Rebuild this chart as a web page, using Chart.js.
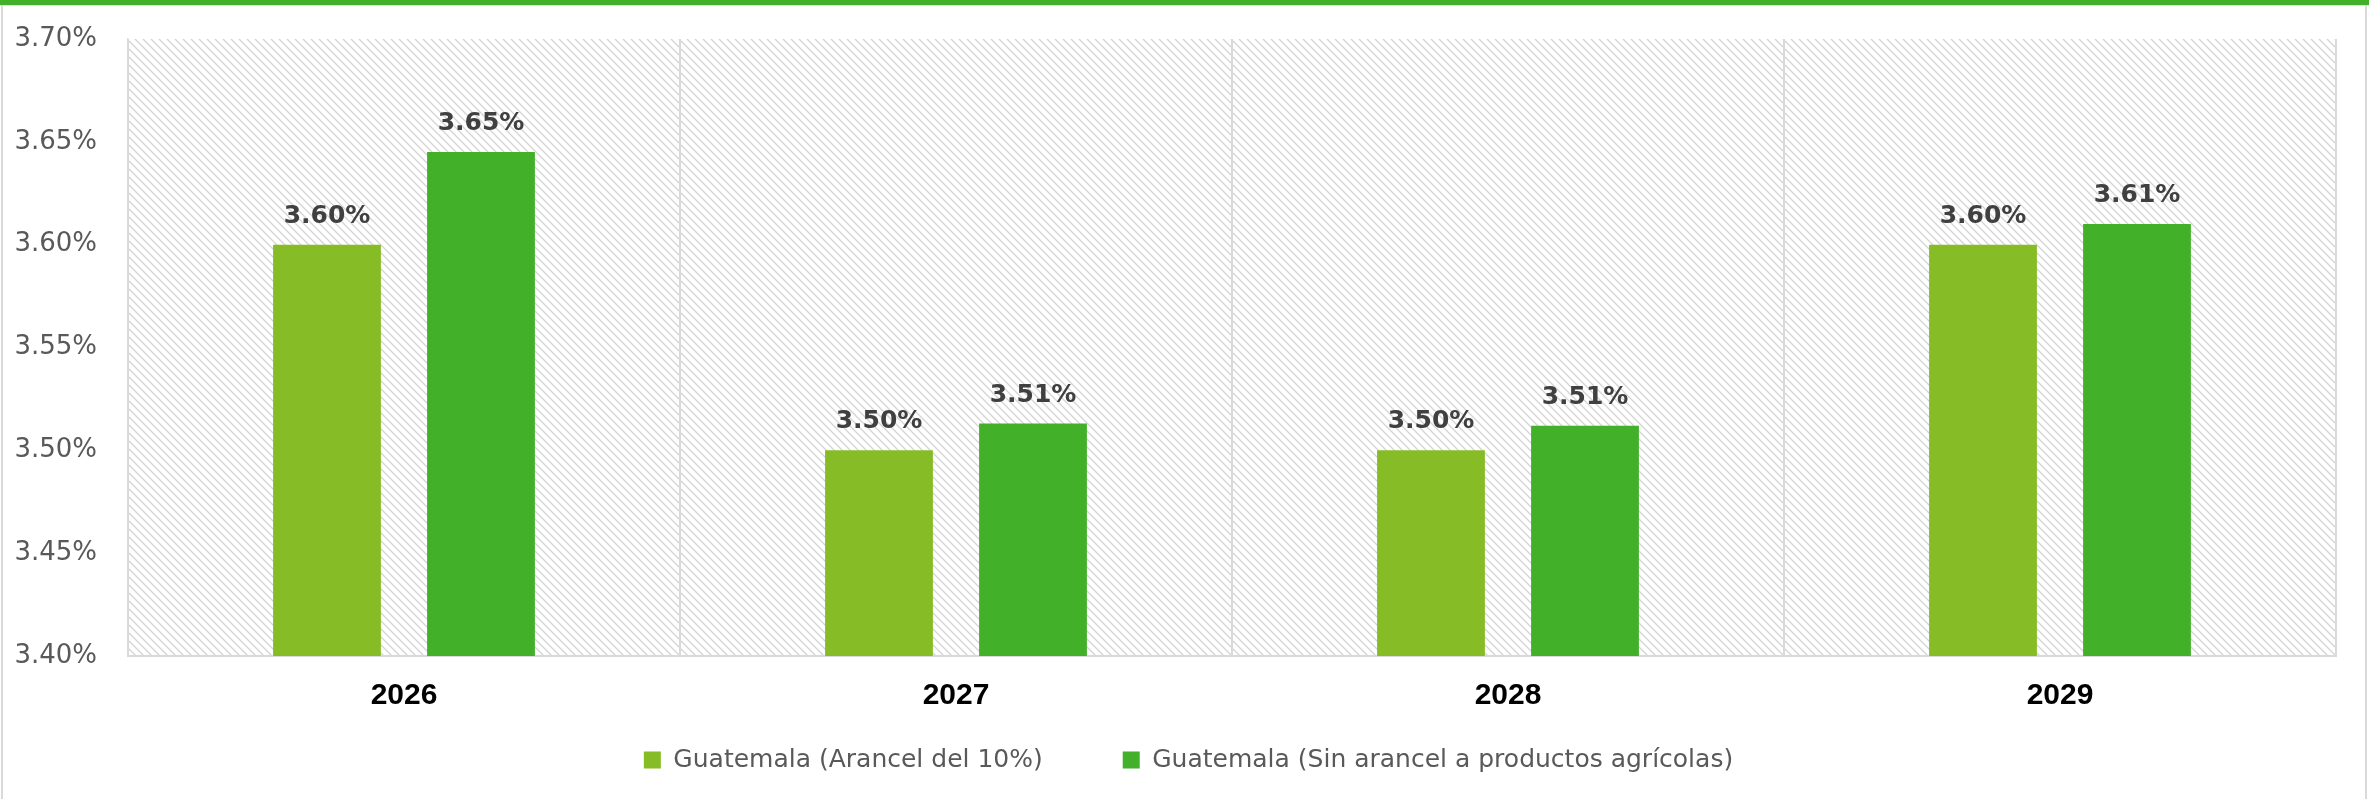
<!DOCTYPE html>
<html>
<head>
<meta charset="utf-8">
<script src="https://cdn.jsdelivr.net/npm/chart.js@4.4.1/dist/chart.umd.min.js"></script>
<style>
  html, body { margin: 0; padding: 0; background: #fff; }
  #wrap { position: relative; width: 2369px; height: 799px; overflow: hidden; }
  #chart { position: absolute; left: 0; top: 0; }
  .topbar { position: absolute; left: 0; top: 0; width: 2369px; height: 5px; background: #43B02A; }
  .topline { position: absolute; left: 0; top: 5px; width: 2369px; height: 1px; background: #E6E6E6; }
  .side { position: absolute; top: 5px; width: 2px; height: 794px; background: #D9D9D9; }
</style>
</head>
<body>
<div id="wrap">
  <canvas id="chart" width="2369" height="799"></canvas>
  <div class="topbar"></div>
  <div class="topline"></div>
  <div class="side" style="left:1px"></div>
  <div class="side" style="left:2365px"></div>
</div>
<script>
// ---- data ----
const years = ['2026', '2027', '2028', '2029'];
const seriesNames = ['Guatemala (Arancel del 10%)', 'Guatemala (Sin arancel a productos agrícolas)'];
const arancel10 = [3.60, 3.50, 3.50, 3.60];
const sinArancel = [3.645, 3.513, 3.512, 3.61];
const yMin = 3.40, yMax = 3.70, yStep = 0.05;

const LIGHT_GREEN = '#86BC25';
const DARK_GREEN = '#43B02A';
const GRID = '#D9D9D9';

const fmtPct = v => (v + 1e-9).toFixed(2) + '%';

// diagonal hatch for the plot background
function makeHatch(ctx) {
  const t = document.createElement('canvas');
  t.width = 8; t.height = 8;
  const c = t.getContext('2d');
  c.strokeStyle = '#D4D4D4';
  c.lineWidth = 1.3;
  c.beginPath();
  c.moveTo(-2, -2); c.lineTo(10, 10);
  c.moveTo(-2, 6); c.lineTo(2, 10);
  c.moveTo(6, -2); c.lineTo(10, 2);
  c.stroke();
  return ctx.createPattern(t, 'repeat');
}

const hatchBg = {
  id: 'hatchBg',
  beforeDraw(chart) {
    const { ctx, chartArea: a } = chart;
    ctx.save();
    ctx.fillStyle = makeHatch(ctx);
    ctx.fillRect(a.left, a.top, a.right - a.left, a.bottom - a.top);
    ctx.restore();
  }
};

const barLabels = {
  id: 'barLabels',
  afterDatasetsDraw(chart) {
    const { ctx } = chart;
    ctx.save();
    ctx.font = 'bold 25px "DejaVu Sans"';
    ctx.fillStyle = '#404040';
    ctx.textAlign = 'center';
    ctx.textBaseline = 'alphabetic';
    chart.data.datasets.forEach((ds, i) => {
      chart.getDatasetMeta(i).data.forEach((bar, j) => {
        ctx.fillText(fmtPct(ds.data[j]), bar.x, bar.y - 22);
      });
    });
    ctx.restore();
  }
};

// tick labels sit outside the narrow axis boxes, so don't clip them
const noClip = s => { s._computeLabelArea = () => undefined; };

new Chart(document.getElementById('chart'), {
  type: 'bar',
  data: {
    labels: years,
    datasets: [
      { label: seriesNames[0], data: arancel10, backgroundColor: LIGHT_GREEN, borderWidth: 0 },
      { label: seriesNames[1], data: sinArancel, backgroundColor: DARK_GREEN, borderWidth: 0 },
    ],
  },
  options: {
    responsive: false,
    animation: false,
    layout: { padding: { left: 41, right: 33, top: 39, bottom: 16.5 } },
    datasets: { bar: { barPercentage: 0.70, categoryPercentage: 0.558 } },
    plugins: {
      tooltip: { enabled: false },
      legend: {
        position: 'bottom',
        labels: {
          boxWidth: 17, boxHeight: 17, padding: 80,
          color: '#595959',
          font: { family: 'DejaVu Sans', size: 25 },
        },
      },
    },
    scales: {
      x: {
        afterFit(s) { s.height = 11.5; noClip(s); },
        grid: { display: true, offset: true, color: GRID, lineWidth: 2, drawTicks: false },
        border: { display: true, color: GRID, width: 2 },
        ticks: {
          color: '#000', padding: 22,
          font: { family: 'Liberation Sans', size: 30, weight: 'bold' },
        },
      },
      y: {
        min: yMin, max: yMax,
        afterFit(s) { s.width = 87; noClip(s); },
        grid: { display: false, drawTicks: false },
        border: { display: true, color: GRID, width: 1.5 },
        ticks: {
          stepSize: yStep, padding: 31, color: '#595959',
          // small lineHeight keeps the label overhang from pushing the plot down
          font: { family: 'DejaVu Sans', size: 26, lineHeight: 0.5 },
          callback: v => fmtPct(v),
        },
      },
    },
  },
  plugins: [hatchBg, barLabels],
});
</script>
</body>
</html>
